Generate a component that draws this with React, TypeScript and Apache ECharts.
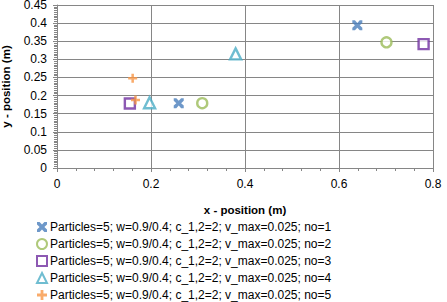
import React, { useEffect, useRef } from "react";
import * as echarts from "echarts";

const seriesNames = [
  "Particles=5; w=0.9/0.4; c_1,2=2; v_max=0.025; no=1",
  "Particles=5; w=0.9/0.4; c_1,2=2; v_max=0.025; no=2",
  "Particles=5; w=0.9/0.4; c_1,2=2; v_max=0.025; no=3",
  "Particles=5; w=0.9/0.4; c_1,2=2; v_max=0.025; no=4",
  "Particles=5; w=0.9/0.4; c_1,2=2; v_max=0.025; no=5",
];

const run1 = [[0.259, 0.179], [0.639, 0.394]];
const run2 = [[0.309, 0.179], [0.701, 0.347]];
const run3 = [[0.155, 0.178], [0.78, 0.342]];
const run4 = [[0.197, 0.18], [0.38, 0.315]];
const run5 = [[0.161, 0.248], [0.167, 0.188]];

const FONT = "Liberation Sans";

const CROSS =
  "path://M0,0 L2.6,0 L5,2.6 L7.4,0 L10,0 L10,2.6 L7.4,5 L10,7.4 L10,10 L7.4,10 L5,7.4 L2.6,10 L0,10 L0,7.4 L2.6,5 L0,2.6 Z";
const PLUS =
  "path://M3.6,0 H6.4 V3.6 H10 V6.4 H6.4 V10 H3.6 V6.4 H0 V3.6 H3.6 Z";

export default function App() {
  const ref = useRef<HTMLDivElement>(null);

  useEffect(() => {
    if (!ref.current) return;
    const chart = echarts.init(ref.current, null, { renderer: "svg" });

    const hollow = (color: string) => ({
      color: "#ffffff",
      borderColor: color,
      borderWidth: 2.4,
    });

    chart.setOption({
      animation: false,
      textStyle: { fontFamily: FONT },
      grid: {
        left: 57,
        right: 14,
        top: 5,
        bottom: 134,
        containLabel: false,
        outerBoundsMode: "none",
      },
      xAxis: {
        type: "value",
        min: 0,
        max: 0.8,
        interval: 0.2,
        name: "x - position (m)",
        nameLocation: "middle",
        nameGap: 36,
        nameTextStyle: { fontFamily: FONT, fontSize: 11.5, fontWeight: "bold", color: "#000" },
        axisLine: { show: true, lineStyle: { color: "#868686" } },
        axisTick: { show: true, length: 4, lineStyle: { color: "#868686" } },
        minorTick: { show: true, splitNumber: 5, length: 3, lineStyle: { color: "#868686" } },
        splitLine: { show: true, lineStyle: { color: "#868686", width: 1 } },
        axisLabel: { fontFamily: FONT, fontSize: 12, color: "#000", margin: 10 },
      },
      yAxis: {
        type: "value",
        min: 0,
        max: 0.45,
        interval: 0.05,
        name: "y - position (m)",
        nameLocation: "middle",
        nameGap: 45,
        nameRotate: 90,
        nameTextStyle: { fontFamily: FONT, fontSize: 11.5, fontWeight: "bold", color: "#000" },
        axisLine: { show: true, lineStyle: { color: "#868686" } },
        axisTick: { show: true, length: 4, lineStyle: { color: "#868686" } },
        minorTick: { show: true, splitNumber: 10, length: 3, lineStyle: { color: "#868686" } },
        splitLine: { show: true, lineStyle: { color: "#868686", width: 1 } },
        axisLabel: { fontFamily: FONT, fontSize: 12, color: "#000", margin: 10 },
      },
      legend: {
        orient: "vertical",
        left: 36,
        top: 221,
        height: 90,
        padding: 0,
        itemWidth: 10,
        itemHeight: 10,
        itemGap: 5,
        textStyle: {
          fontFamily: FONT,
          fontSize: 12,
          lineHeight: 12,
          color: "#000",
          padding: [0, 0, 0, -2],
        },
        data: seriesNames,
      },
      series: [
        {
          name: seriesNames[0],
          type: "scatter",
          data: run1,
          symbol: CROSS,
          symbolSize: 10,
          itemStyle: { color: "#4a7ebb" },
        },
        {
          name: seriesNames[1],
          type: "scatter",
          data: run2,
          symbol: "circle",
          symbolSize: 10,
          itemStyle: hollow("#9bbb59"),
        },
        {
          name: seriesNames[2],
          type: "scatter",
          data: run3,
          symbol: "rect",
          symbolSize: 10,
          itemStyle: hollow("#7030a0"),
        },
        {
          name: seriesNames[3],
          type: "scatter",
          data: run4,
          symbol: "triangle",
          symbolSize: 11,
          itemStyle: hollow("#4bacc6"),
        },
        {
          name: seriesNames[4],
          type: "scatter",
          data: run5,
          symbol: PLUS,
          symbolSize: 9,
          itemStyle: { color: "#f79646" },
        },
      ],
    });

    return () => chart.dispose();
  }, []);

  return <div ref={ref} style={{ width: 447, height: 302, position: "absolute", left: 0, top: 0 }} />;
}
